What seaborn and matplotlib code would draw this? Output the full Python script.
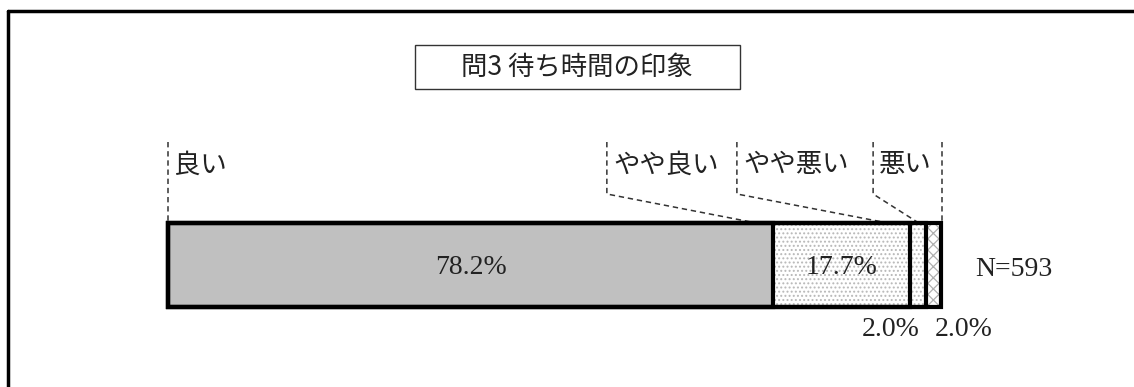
import matplotlib
matplotlib.use("Agg")
import matplotlib.pyplot as plt
import seaborn as sns
import numpy as np
from matplotlib.lines import Line2D
from matplotlib.patches import Rectangle

# ---- data ----
categories = ["良い", "やや良い", "やや悪い", "悪い"]
values = [78.2, 17.7, 2.0, 2.0]
value_labels = ["78.2%", "17.7%", "2.0%", "2.0%"]
title = "問3 待ち時間の印象"
n_label = "N=593"

sns.set_theme(style="white")
plt.rcParams["font.family"] = ["Noto Sans CJK JP", "DejaVu Sans"]
plt.rcParams["hatch.linewidth"] = 0.9

W, H = 1134, 387
fig = plt.figure(figsize=(W / 100, H / 100), dpi=100)
ax = fig.add_axes([0, 0, 1, 1])

# pixel-based scale helpers (figure layout)
PX_PER_PCT = 7.74
X0 = 168
BAR_C = 265
PX_PER_Y = 105

def ypx(p):
    return (p - BAR_C) / PX_PER_Y

fills = ["#c0c0c0", "white", "white", "white"]
hatches = [None, "....", "....", "xxx"]
hatch_cols = ["#c0c0c0", "#b8b8b8", "#b8b8b8", "#b0b0b0"]

cum = np.cumsum(values)
starts = cum - np.array(values)

for i in reversed(range(len(values))):
    n0 = len(ax.patches)
    sns.barplot(x=[cum[i]], y=["Q3"], orient="h", color=fills[i],
                saturation=1, width=0.8, ax=ax)
    for p in ax.patches[n0:]:
        p.set_facecolor(fills[i])
        p.set_edgecolor(hatch_cols[i])
        p.set_linewidth(0)
        if hatches[i]:
            p.set_hatch(hatches[i])
    n0 = len(ax.patches)
    sns.barplot(x=[cum[i]], y=["Q3"], orient="h", color="white",
                saturation=1, width=0.8, ax=ax)
    for p in ax.patches[n0:]:
        p.set_facecolor("none")
        p.set_edgecolor("black")
        p.set_linewidth(3)
        p.set_zorder(3)

ax.set_xlim(-X0 / PX_PER_PCT, (W - X0) / PX_PER_PCT)
ax.set_ylim(ypx(H), ypx(0))
ax.axis("off")

# value labels
num_font = ["Liberation Serif", "Noto Sans CJK JP"]
ax.text(starts[0] + values[0] / 2, ypx(267), value_labels[0], ha="center", va="center",
        fontsize=20, family=num_font, color="#222222", zorder=5)
ax.text(starts[1] + values[1] / 2, ypx(267), value_labels[1], ha="center", va="center",
        fontsize=20, family=num_font, color="#222222", zorder=5)
ax.text(starts[2] + values[2] / 2 - 3.5, ypx(329), value_labels[2], ha="center", va="center",
        fontsize=20, family=num_font, color="#222222")
ax.text(starts[3] + values[3] / 2 + 3.9, ypx(329), value_labels[3], ha="center", va="center",
        fontsize=20, family=num_font, color="#222222")
ax.text(104.3, ypx(269), n_label, ha="left", va="center",
        fontsize=20, family=num_font, color="#222222")

# category labels with leader lines
dash = (0, (3.5, 2.5))
lc = "#333333"
y_top = ypx(142)
y_knee = ypx(194)
y_bar = -0.4
y_lab = ypx(165)

label_x = [0.0, 56.7, 73.5, 91.1]
end_x = [0.0, 76.0, 93.0, 97.0]
for i, cat in enumerate(categories):
    ax.text(label_x[i] + 0.8, y_lab, cat, ha="left", va="center", fontsize=19, color="#222222")
    if i == 0:
        ax.plot([label_x[i], label_x[i]], [y_top, y_bar], ls=dash, lw=1.1, color=lc)
    else:
        ax.plot([label_x[i], label_x[i], end_x[i]], [y_top, y_knee, y_bar],
                ls=dash, lw=1.1, color=lc)
ax.plot([cum[-1] + 0.15, cum[-1] + 0.15], [y_top, y_bar], ls=dash, lw=1.1, color=lc)

# title box
ax.add_patch(Rectangle(((415 - X0) / PX_PER_PCT, ypx(45)), 325 / PX_PER_PCT, 44 / PX_PER_Y,
                       facecolor="white", edgecolor="#333333", lw=1))
ax.text((577 - X0) / PX_PER_PCT, ypx(67), title, ha="center", va="center",
        fontsize=19, color="#222222", family=["Noto Sans CJK JP", "DejaVu Sans"])

# outer frame (cropped at right and bottom)
fig.add_artist(Line2D([8 / W, 8 / W], [0, 1 - 11 / H], color="black", lw=2.5))
fig.add_artist(Line2D([8 / W, 1], [1 - 11 / H, 1 - 11 / H], color="black", lw=2.5))

fig.savefig("out.png", dpi=100, facecolor="white")
